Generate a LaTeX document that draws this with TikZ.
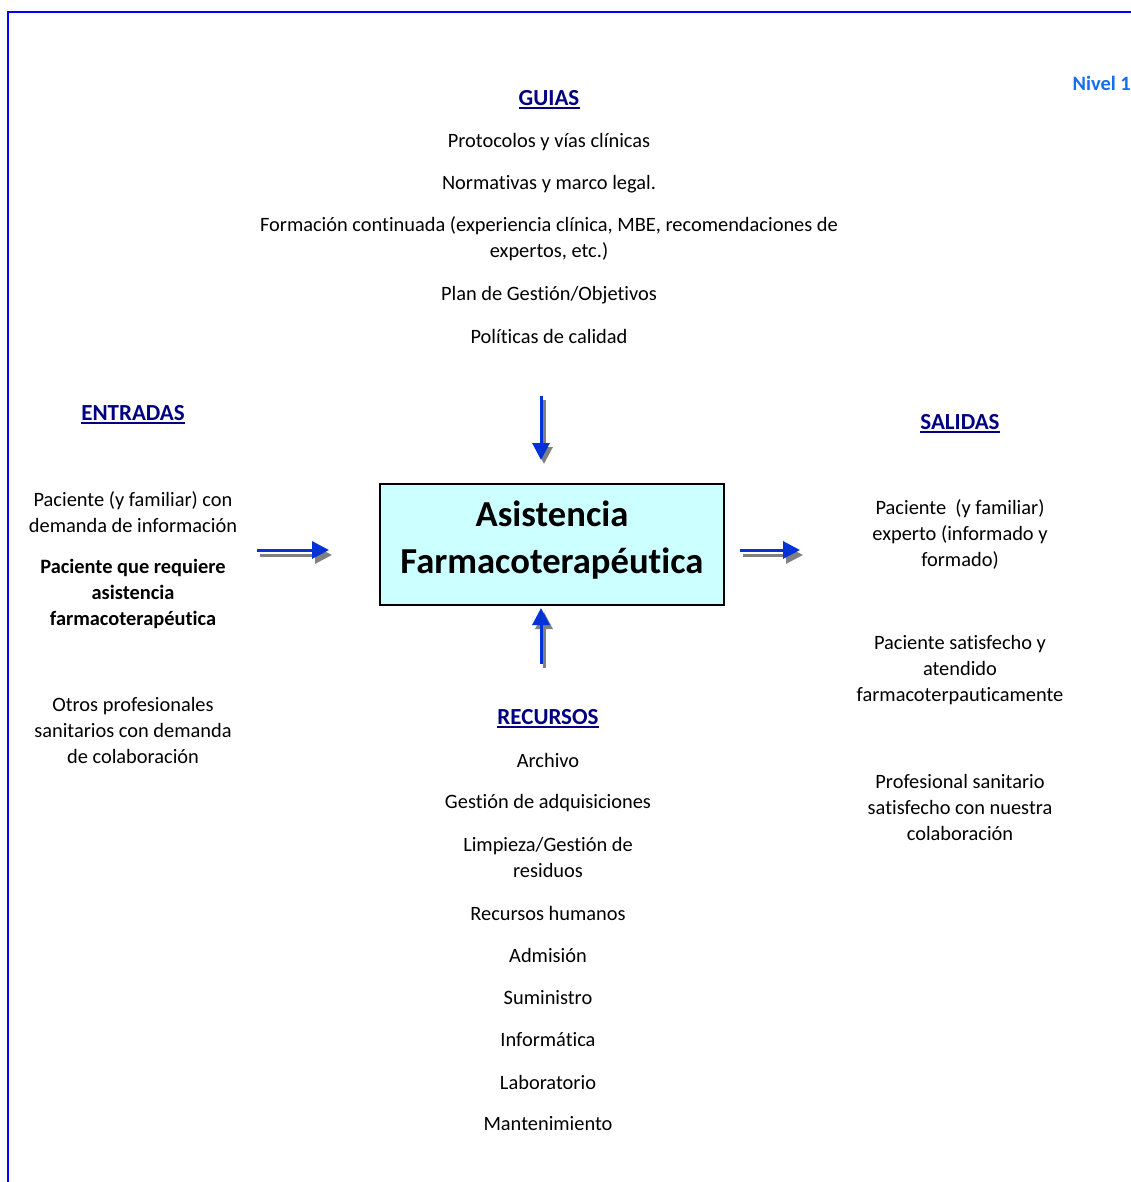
\documentclass[tikz,border=0pt]{standalone}
\usepackage{fontspec}
\setmainfont{Carlito}[Ligatures=NoCommon]
\usetikzlibrary{arrows.meta}

\definecolor{headnavy}{RGB}{0,0,128}
\definecolor{levelblue}{RGB}{20,110,240}
\definecolor{framedblue}{RGB}{0,0,255}
\definecolor{arrowblue}{RGB}{0,51,214}
\definecolor{arrowgray}{RGB}{128,128,128}
\definecolor{boxcyan}{RGB}{204,255,255}

\tikzset{
  txt/.style={align=center, inner sep=0pt, font=\fontsize{20.4}{26}\selectfont},
  btxt/.style={txt, font=\fontsize{20.4}{26}\selectfont\bfseries},
  heading/.style={inner sep=0pt, text=headnavy, font=\fontsize{23}{28}\selectfont\bfseries},
  uline/.style={draw=headnavy, line width=2pt},
  mainbox/.style={draw=black, line width=2pt, fill=boxcyan},
  flowblue/.style={draw=arrowblue, line width=3pt, -{Triangle[length=17pt,width=17pt]}, arrowblue},
  flowshadow/.style={draw=arrowgray, line width=3pt, -{Triangle[length=17pt,width=17pt]}, arrowgray},
}

\begin{document}
\begin{tikzpicture}[x=1pt, y=-1pt]
\useasboundingbox (0,0) rectangle (1131,1182);

% page frame
\draw[framedblue, line width=2pt] (1131,12) -- (8,12) -- (8,1182);

% level label
\node[anchor=east, inner sep=0pt, text=levelblue, font=\fontsize{20.4}{26}\selectfont\bfseries] (nivel) at (1131,83) {Nivel 1};

% central process
\draw[mainbox] (380,484) rectangle (724,605);
\node[align=center, inner sep=0pt, font=\fontsize{36.6}{47}\selectfont\bfseries] (proc) at (552,540) {Asistencia\\Farmacoterapéutica};

% GUIAS
\node[heading] (hguias) at (549,98) {GUIAS};
\draw[uline] ([yshift=-3pt]hguias.base west) -- ([yshift=-3pt]hguias.base east);
\node[txt] (g1) at (549,142) {Protocolos y vías clínicas};
\node[txt] (g2) at (549,184) {Normativas y marco legal.};
\node[txt] (g3) at (549,239) {Formación continuada (experiencia clínica, MBE, recomendaciones de\\expertos, etc.)};
\node[txt] (g4) at (549,295) {Plan de Gestión/Objetivos};
\node[txt] (g5) at (549,336) {Políticas de calidad};

% ENTRADAS
\node[heading] (hent) at (133,413) {ENTRADAS};
\draw[uline] ([yshift=-3pt]hent.base west) -- ([yshift=-3pt]hent.base east);
\node[txt] (e1) at (133,512) {Paciente (y familiar) con\\demanda de información};
\node[btxt] (e2) at (133,594) {Paciente que requiere\\asistencia\\farmacoterapéutica};
\node[txt] (e3) at (133,730) {Otros profesionales\\sanitarios con demanda\\de colaboración};

% SALIDAS
\node[heading] (hsal) at (960,422) {SALIDAS};
\draw[uline] ([yshift=-3pt]hsal.base west) -- ([yshift=-3pt]hsal.base east);
\node[txt] (s1) at (960,534) {Paciente~ (y familiar)\\experto (informado y\\formado)};
\node[txt] (s2) at (960,670) {Paciente satisfecho y\\atendido\\farmacoterpauticamente};
\node[txt] (s3) at (960,807) {Profesional sanitario\\satisfecho con nuestra\\colaboración};

% RECURSOS
\node[heading] (hrec) at (548,717) {RECURSOS};
\draw[uline] ([yshift=-3pt]hrec.base west) -- ([yshift=-3pt]hrec.base east);
\node[txt] (r1) at (548,760) {Archivo};
\node[txt] (r2) at (548,803) {Gestión de adquisiciones};
\node[txt] (r3) at (548,857) {Limpieza/Gestión de\\residuos};
\node[txt] (r4) at (548,913) {Recursos humanos};
\node[txt] (r5) at (548,955) {Admisión};
\node[txt] (r6) at (548,998) {Suministro};
\node[txt] (r7) at (548,1040) {Informática};
\node[txt] (r8) at (548,1082) {Laboratorio};
\node[txt] (r9) at (548,1124) {Mantenimiento};

% arrow end points
\coordinate (inA) at (257,550);   \coordinate (inB) at (329,550);
\coordinate (outA) at (740,550);  \coordinate (outB) at (800,550);
\coordinate (topA) at (541,396);  \coordinate (topB) at (541,460);
\coordinate (botA) at (541,664);  \coordinate (botB) at (541,608);

% shadows of the arrows
\draw[flowshadow] ([shift={(3,5)}]inA) -- ([shift={(3,5)}]inB);
\draw[flowshadow] ([shift={(3,5)}]outA) -- ([shift={(3,5)}]outB);
\draw[flowshadow] ([shift={(3,4)}]topA) -- ([shift={(3,4)}]topB);
\draw[flowshadow] ([shift={(3,4)}]botA) -- ([shift={(3,4)}]botB);

% arrows
\draw[flowblue] (inA) -- (inB);
\draw[flowblue] (outA) -- (outB);
\draw[flowblue] (topA) -- (topB);
\draw[flowblue] (botA) -- (botB);
\end{tikzpicture}
\end{document}
